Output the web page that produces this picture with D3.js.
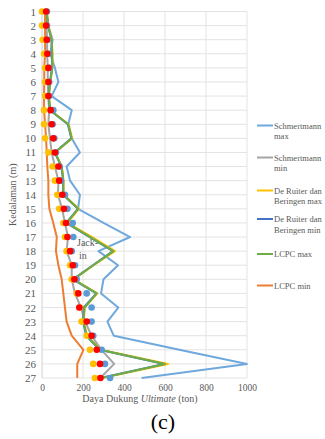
<!DOCTYPE html>
<html>
<head>
<meta charset="utf-8">
<script src="https://cdn.jsdelivr.net/npm/d3@7"></script>
<style>
  html, body { margin: 0; padding: 0; background: #fff; }
  svg { display: block; }
  svg text { font-family: "Liberation Serif", "DejaVu Serif", serif; }
</style>
</head>
<body>
<div id="chart"></div>
<script>
'use strict';

// depth (m), top to bottom
const depths = d3.range(1, 28);
const xTicks = [0, 200, 400, 600, 800, 1000];

// ultimate bearing capacity (ton) per depth
const schmertmannMax = [23, 30, 52, 40, 63, 80, 47, 145, 128, 145, 185, 120, 137, 185, 176, 300, 430, 275, 371, 300, 288, 372, 319, 350, 670, 1000, 486];
const schmertmannMin = [20, 22, 25, 25, 28, 28, 30, 35, 31, 39, 47, 63, 80, 78, 98, 112, 127, 120, 145, 145, 161, 190, 210, 242, 290, 352, 285];
const deRuiterMax    = [24, 31, 48, 51, 51, 41, 34, 41, 130, 147, 64, 97, 105, 105, 180, 124, 245, 356, 252, 155, 270, 208, 204, 220, 286, 615, 292];
const deRuiterMin    = [22, 29, 46, 49, 49, 39, 32, 39, 126, 143, 62, 95, 103, 103, 175, 118, 233, 346, 248, 151, 265, 204, 200, 216, 281, 596, 286];
const lcpcMax        = [23, 30, 47, 50, 50, 40, 33, 40, 128, 145, 63, 96, 104, 104, 177, 120, 235, 348, 250, 153, 267, 208, 202, 218, 283, 600, 290];
const lcpcMin        = [15, 15, 15, 15, 11, 11, 10, 10, 15, 20, 23, 26, 31, 31, 36, 55, 72, 68, 80, 96, 104, 112, 120, 145, 202, 172, 172];

// jack-in readings (three per depth)
const jackLow  = [0, 0, 3, 10, 15, 15, 15, 10, 10, 15, 31, 52, 63, 75, 84, 104, 112, 120, 137, 145, 169, 185, 193, 218, 234, 250, 258];
const jackMid  = [20, 20, 23, 26, 31, 31, 31, 42, 47, 55, 63, 80, 84, 99, 107, 117, 124, 137, 150, 158, 177, 182, 218, 242, 267, 283, 285];
const jackHigh = [24, 24, 27, 30, 35, 35, 35, 55, 52, 60, 68, 86, 92, 112, 124, 150, 153, 145, 161, 169, 218, 242, 242, 250, 291, 307, 332];

const series = [
    {name: ['Schmertmann', 'max'], values: schmertmannMax, color: '#6FA8DC'},
    {name: ['Schmertmann', 'min'], values: schmertmannMin, color: '#A5A5A5'},
    {name: ['De Ruiter dan', 'Beringen max'], values: deRuiterMax, color: '#FFC000'},
    {name: ['De Ruiter dan', 'Beringen min'], values: deRuiterMin, color: '#4472C4'},
    {name: ['LCPC max'], values: lcpcMax, color: '#70AD47'},
    {name: ['LCPC min'], values: lcpcMin, color: '#ED7D31'}
];

const width = 325, height = 439;
const margins = {top: 11.5, left: 42, right: 78, bottom: 61};

const svg = d3.select('#chart').append('svg')
    .attr('width', width)
    .attr('height', height);

const xScale = d3.scaleLinear().domain([0, 1000]).range([margins.left, width - margins.right]);
const yScale = d3.scaleLinear().domain([1, 27]).range([margins.top, height - margins.bottom]);

// grid
const grid = svg.append('g').attr('class', 'grid');
grid.selectAll('.hgrid')
    .data(depths)
    .enter()
    .append('line')
    .attr('x1', xScale(0))
    .attr('x2', xScale(1000))
    .attr('y1', d => yScale(d))
    .attr('y2', d => yScale(d))
    .attr('stroke', '#E3E3E3')
    .attr('stroke-width', 1);

grid.selectAll('.vgrid')
    .data(xTicks)
    .enter()
    .append('line')
    .attr('x1', d => xScale(d))
    .attr('x2', d => xScale(d))
    .attr('y1', yScale(1))
    .attr('y2', yScale(27))
    .attr('stroke', d => d === 0 ? '#D0D0D0' : '#E3E3E3')
    .attr('stroke-width', 1);

// axes
const yAxis = d3.axisLeft(yScale).tickValues(depths).tickSize(0).tickPadding(6).tickFormat(d3.format('d'));
const yAxisGroup = svg.append('g')
    .attr('transform', 'translate(' + margins.left + ',0)')
    .call(yAxis)
    .attr('font-family', null)
    .attr('font-size', null);
yAxisGroup.select('.domain').remove();
yAxisGroup.selectAll('text')
    .attr('fill', '#595959')
    .style('font-size', '11px');

const xAxis = d3.axisBottom(xScale).tickValues(xTicks).tickSize(0).tickPadding(6).tickFormat(d3.format('d'));
const xAxisGroup = svg.append('g')
    .attr('transform', 'translate(0,' + yScale(27) + ')')
    .call(xAxis)
    .attr('font-family', null)
    .attr('font-size', null);
xAxisGroup.select('.domain').remove();
xAxisGroup.selectAll('text')
    .attr('fill', '#595959')
    .style('font-size', '9.5px');

// lines
const line = d3.line()
    .x(d => xScale(d.v))
    .y(d => yScale(d.depth));

svg.append('g').selectAll('path')
    .data(series)
    .enter()
    .append('path')
    .attr('d', s => line(s.values.map((v, i) => ({v: v, depth: depths[i]}))))
    .attr('fill', 'none')
    .attr('stroke', s => s.color)
    .attr('stroke-width', 2)
    .attr('stroke-linejoin', 'round');

// jack-in dots
const dotSets = [
    {values: jackLow, color: '#FFC000'},
    {values: jackHigh, color: '#5B9BD5'},
    {values: jackMid, color: '#FF0000'}
];
dotSets.forEach(set => {
    svg.append('g').selectAll('circle')
        .data(set.values)
        .enter()
        .append('circle')
        .attr('cx', d => xScale(d))
        .attr('cy', (d, i) => yScale(depths[i]))
        .attr('r', 3.3)
        .attr('fill', set.color);
});

// jack-in label
const jackLabel = svg.append('text')
    .attr('x', 77)
    .attr('y', yScale(18) - 5)
    .attr('fill', '#595959')
    .style('font-size', '10px');
jackLabel.append('tspan').attr('x', 77).text('Jack-');
jackLabel.append('tspan').attr('x', 79).attr('dy', 13).text('in');

// axis titles
svg.append('text')
    .attr('transform', 'translate(16,' + ((yScale(1) + yScale(27)) / 2) + ') rotate(-90)')
    .attr('text-anchor', 'middle')
    .attr('fill', '#595959')
    .style('font-size', '10px')
    .text('Kedalaman (m)');

const xTitle = svg.append('text')
    .attr('x', 140)
    .attr('y', 402)
    .attr('text-anchor', 'middle')
    .attr('fill', '#595959')
    .style('font-size', '10px');
xTitle.append('tspan').text('Daya Dukung ');
xTitle.append('tspan').style('font-style', 'italic').text('Ultimate');
xTitle.append('tspan').text(' (ton)');

svg.append('text')
    .attr('x', 163)
    .attr('y', 429)
    .attr('text-anchor', 'middle')
    .attr('fill', '#000')
    .style('font-size', '22px')
    .text('(c)');

// legend
const legendY = [125.5, 157.5, 190.5, 219, 254, 285.5];
const legend = svg.append('g').selectAll('g')
    .data(series)
    .enter()
    .append('g')
    .attr('transform', (d, i) => 'translate(257,' + legendY[i] + ')');

legend.append('line')
    .attr('x1', 0)
    .attr('x2', 16)
    .attr('stroke', d => d.color)
    .attr('stroke-width', 2);

legend.append('text')
    .attr('fill', '#595959')
    .style('font-size', '8.5px')
    .attr('y', 3)
    .each(function (d) {
        d.name.forEach((t, j) => {
            d3.select(this).append('tspan')
                .attr('x', 17)
                .attr('dy', j === 0 ? 0 : 10.5)
                .text(t);
        });
    });
</script>
</body>
</html>
